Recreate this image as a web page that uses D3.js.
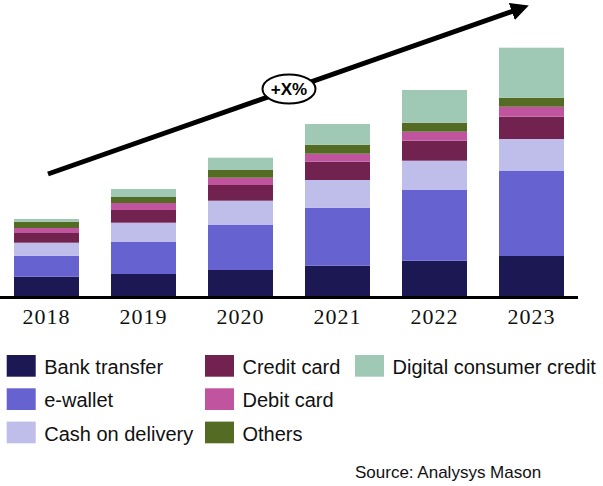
<!DOCTYPE html>
<html>
<head>
<meta charset="utf-8">
<script src="https://cdn.jsdelivr.net/npm/d3@7"></script>
<style>
  html, body { margin: 0; padding: 0; background: #fff; }
  svg { display: block; }
</style>
</head>
<body>
<svg id="chart" width="603" height="486"></svg>
<script>
// ---- Data (arbitrary units) ----
const years = ["2018", "2019", "2020", "2021", "2022", "2023"];
const seriesNames = ["Bank transfer", "e-wallet", "Cash on delivery", "Credit card", "Debit card", "Others", "Digital consumer credit"];
const bankTransfer = [19.3, 22, 26, 30.3, 35.3, 40];
const eWallet = [21, 32, 45, 58, 70.7, 85];
const cashOnDelivery = [13, 19.3, 24.3, 27.7, 29.3, 32];
const creditCard = [9.7, 12.7, 15.7, 18.3, 20, 22.3];
const debitCard = [5, 7, 7.3, 8, 9, 10];
const others = [6.3, 6, 7.7, 9, 9, 9];
const digitalConsumerCredit = [2.7, 8, 12.3, 20.7, 32.7, 50];
const colors = ["#1c1854", "#6662d0", "#bfbdea", "#72224f", "#c0549e", "#536b22", "#a0c9b5"];
const annotationLabel = "+X%";
const sourceLabel = "Source: Analysys Mason";

const seriesValues = [bankTransfer, eWallet, cashOnDelivery, creditCard, debitCard, others, digitalConsumerCredit];
const rows = years.map((y, i) => {
  const r = { year: y };
  seriesNames.forEach((s, j) => r[s] = seriesValues[j][i]);
  return r;
});

const svg = d3.select("#chart");

const x = d3.scaleBand().domain(years).range([-2, 580]).paddingInner(0.33).paddingOuter(0.165);
const y = d3.scaleLinear().domain([0, 250]).range([296, 46]);
const color = d3.scaleOrdinal().domain(seriesNames).range(colors);

const stack = d3.stack().keys(seriesNames);
const stacked = stack(rows);

svg.append("g")
  .selectAll("g")
  .data(stacked)
  .join("g")
  .attr("fill", d => color(d.key))
  .selectAll("rect")
  .data(d => d)
  .join("rect")
  .attr("x", d => x(d.data.year))
  .attr("width", x.bandwidth())
  .attr("y", d => y(d[1]))
  .attr("height", d => y(d[0]) - y(d[1]));

// x axis
const xAxis = svg.append("g")
  .attr("transform", "translate(0,297.5)")
  .call(d3.axisBottom(x).tickSize(0).tickPadding(0));
xAxis.select(".domain").remove();
svg.append("line")
  .attr("x1", 0).attr("x2", 578)
  .attr("y1", 297.5).attr("y2", 297.5)
  .attr("stroke", "#000").attr("stroke-width", 3);
xAxis.selectAll("text")
  .attr("y", 26.5)
  .attr("dy", null)
  .attr("fill", "#111")
  .style("font-family", "'Liberation Serif', serif")
  .style("font-size", "22px")
  .style("letter-spacing", "1px");

// growth arrow annotation
const defs = svg.append("defs");
defs.append("marker")
  .attr("id", "arrowhead")
  .attr("viewBox", "0 0 10 10")
  .attr("refX", 6).attr("refY", 5)
  .attr("markerWidth", 3.6).attr("markerHeight", 3.6)
  .attr("orient", "auto")
  .append("path")
  .attr("d", "M0,0 L10,5 L0,10 z")
  .attr("fill", "#000");

svg.append("line")
  .attr("x1", 48).attr("y1", 174)
  .attr("x2", 522).attr("y2", 8)
  .attr("stroke", "#000")
  .attr("stroke-width", 5)
  .attr("marker-end", "url(#arrowhead)");

svg.append("ellipse")
  .attr("cx", 289).attr("cy", 89)
  .attr("rx", 26.5).attr("ry", 14.5)
  .attr("fill", "#fff").attr("stroke", "#000").attr("stroke-width", 2);
svg.append("text")
  .attr("x", 289).attr("y", 95)
  .attr("text-anchor", "middle")
  .style("font-family", "'Liberation Sans', Arial, sans-serif")
  .style("font-weight", "bold")
  .style("font-size", "17px")
  .text(annotationLabel);

// legend
const legendCols = [[0, 1, 2], [3, 4, 5], [6]];
const colX = [6.7, 205, 355];
const legend = svg.append("g");
legendCols.forEach((col, ci) => {
  col.forEach((si, ri) => {
    const g = legend.append("g").attr("transform", `translate(${colX[ci]},${355 + ri * 33.3})`);
    g.append("rect").attr("width", 29).attr("height", 21.7).attr("fill", color(seriesNames[si]));
    g.append("text")
      .attr("x", 37.5).attr("y", 19)
      .attr("fill", "#111")
      .style("font-family", "'Liberation Sans', Arial, sans-serif")
      .style("font-size", "20px")
      .text(seriesNames[si]);
  });
});

svg.append("text")
  .attr("x", 355).attr("y", 478)
  .attr("fill", "#111")
  .style("font-family", "'Liberation Sans', Arial, sans-serif")
  .style("font-size", "17px")
  .text(sourceLabel);
</script>
</body>
</html>
